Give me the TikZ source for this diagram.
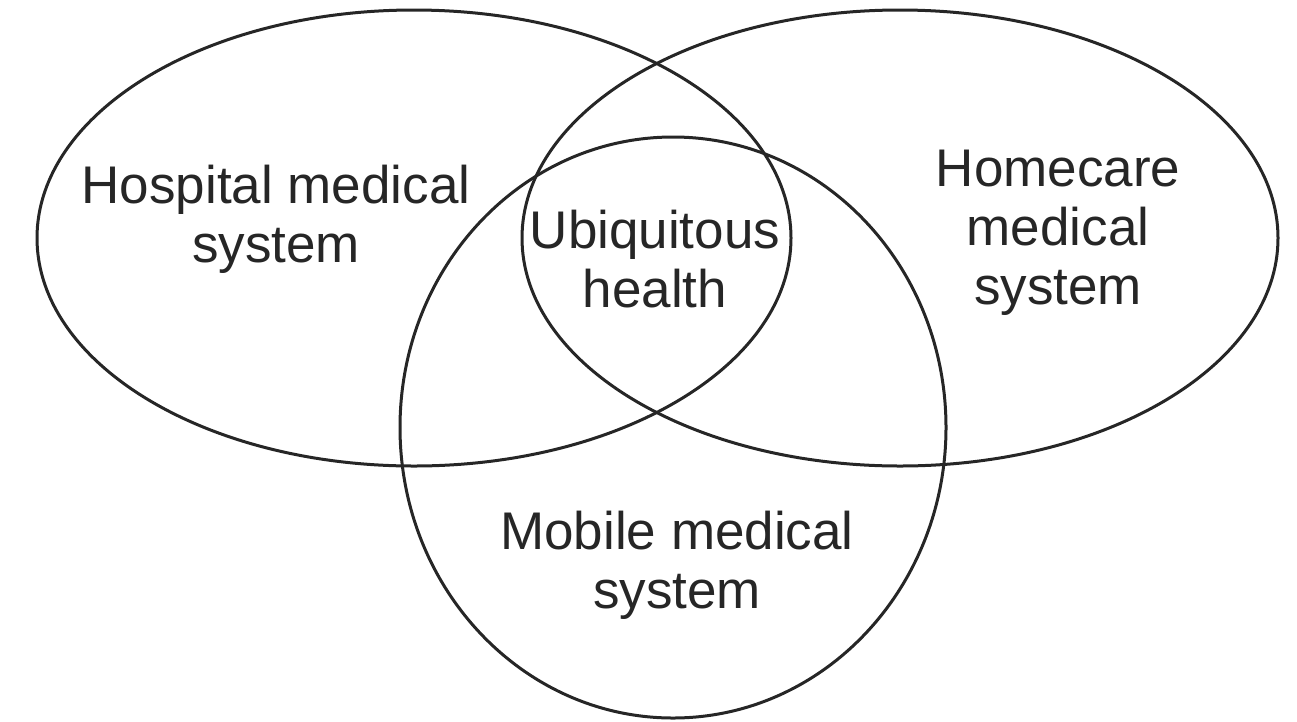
\documentclass[tikz,border=0pt]{standalone}
\usepackage{fontspec}
\setmainfont{Liberation Sans}
\usetikzlibrary{shapes.geometric}
\begin{document}
\begin{tikzpicture}[x=1pt,y=-1pt,
  setring/.style={ellipse, draw=black!85, line width=3pt, inner sep=0pt, outer sep=0pt},
  setlabel/.style={align=center, anchor=base, inner sep=0pt, text=black!85,
    font=\fontsize{53}{59}\selectfont}]
  \useasboundingbox (0,0) rectangle (1297,721);
  % the three overlapping sets
  \node[setring, minimum width=754pt, minimum height=456pt] (hospital) at (414,238) {};
  \node[setring, minimum width=756pt, minimum height=456pt] (homecare) at (900,238) {};
  \node[setring, minimum width=546pt, minimum height=581pt] (mobile) at (673,427.5) {};
  % set names (base = baseline of the last line)
  \node[setlabel] (hospitaltxt) at (276,262) {Hospital medical\\system};
  \node[setlabel] (ubiq) at (655,307) {Ubiquitous\\health};
  \node[setlabel] (homecaretxt) at (1058,304) {Homecare\\medical\\system};
  \node[setlabel] (mobiletxt) at (677,608) {Mobile medical\\system};
\end{tikzpicture}
\end{document}
